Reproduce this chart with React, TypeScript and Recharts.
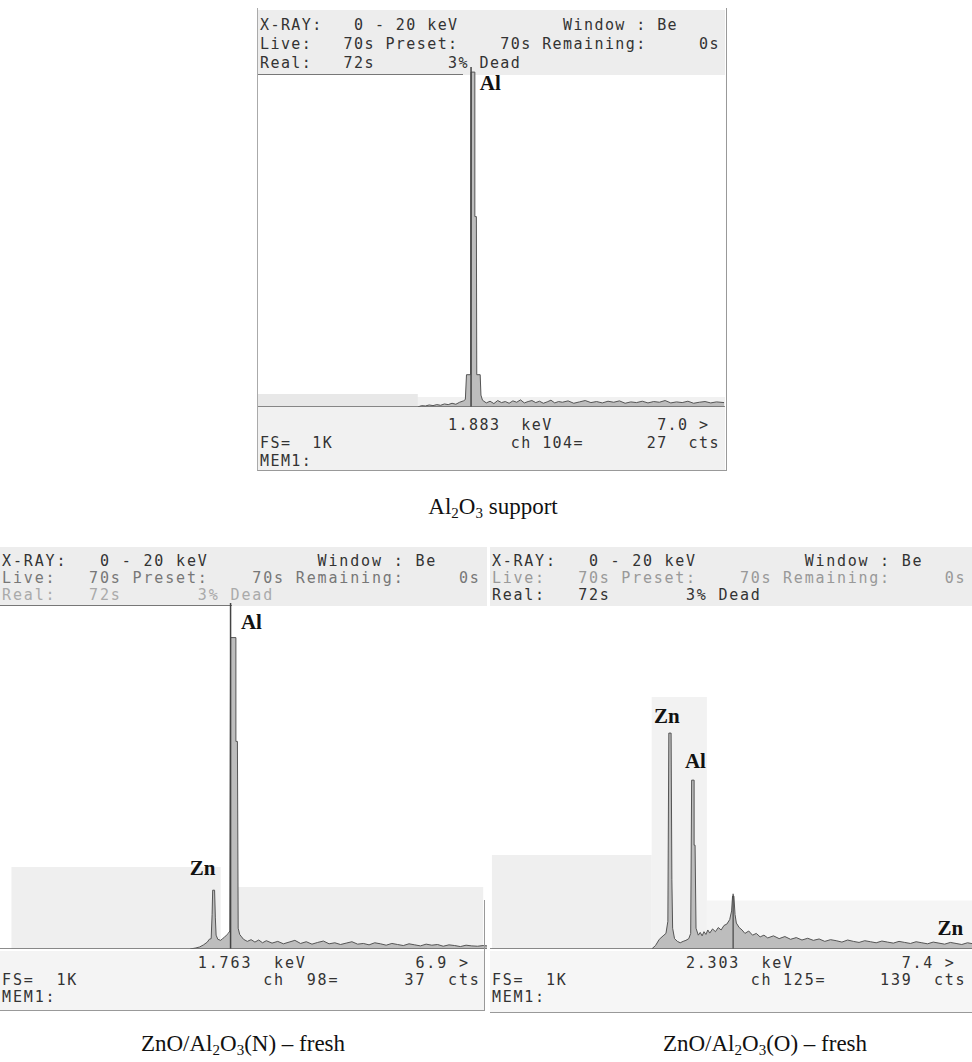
import React from "react";
import { AreaChart, Area, XAxis, YAxis, ReferenceLine, ReferenceArea, ReferenceDot } from "recharts";

// channel / counts (full scale FS = 1K)
const supportCh = [84, 86, 88, 90, 92, 94, 96, 98, 100, 102, 104, 106, 108, 109, 109.6, 111.8, 112, 114, 114, 114.8, 115, 116.8, 117.2, 118, 120, 122, 124, 126, 128, 130, 132, 134, 136, 138, 140, 142, 144, 146, 148, 150, 152, 154, 156, 158, 160, 163, 166, 169, 172, 175, 178, 181, 184, 187, 190, 193, 196, 199, 202, 205, 208, 211, 214, 217, 220, 223, 226, 229, 232, 235, 238, 241, 245];
const supportCts = [0, 4, 3, 6, 4, 7, 5, 9, 7, 11, 8, 14, 18, 22, 95, 95, 985, 985, 560, 560, 95, 95, 35, 20, 12, 17, 10, 19, 13, 16, 11, 18, 14, 21, 12, 16, 19, 13, 17, 11, 15, 20, 12, 16, 14, 18, 11, 15, 19, 13, 16, 12, 17, 14, 18, 11, 15, 13, 17, 12, 16, 14, 19, 12, 15, 13, 17, 11, 14, 16, 12, 15, 13];

const freshNCh = [100, 103, 105, 107, 109, 110, 111, 111.5, 111.8, 112.8, 113.2, 113.6, 114.5, 116, 117, 118, 119, 120, 120.8, 121.2, 124, 124, 124.8, 125.2, 126, 127, 128, 130, 132, 134, 136, 138, 140, 143, 146, 149, 152, 155, 158, 161, 164, 167, 170, 173, 176, 179, 182, 185, 188, 191, 194, 197, 200, 203, 206, 209, 212, 215, 218, 221, 224, 227, 230, 233, 236, 239, 242, 245, 248, 251, 254, 256];
const freshNCts = [0, 3, 6, 12, 20, 28, 30, 100, 170, 170, 90, 40, 28, 25, 30, 34, 40, 45, 52, 900, 900, 600, 600, 60, 42, 35, 28, 22, 27, 20, 26, 18, 24, 17, 22, 15, 20, 25, 16, 21, 14, 19, 23, 15, 18, 13, 17, 21, 14, 16, 12, 18, 15, 11, 16, 13, 10, 15, 12, 9, 14, 11, 13, 8, 12, 10, 7, 11, 9, 8, 10, 9];

const freshOCh = [85, 87, 89, 91, 92.5, 93.5, 94, 95.2, 95.6, 96, 97, 98.5, 100, 101.5, 103, 104.5, 105.5, 106, 107.3, 107.3, 107.8, 108.3, 109.5, 110.5, 111.5, 112.5, 113.5, 114.5, 115.5, 117, 118.5, 120, 121.5, 123, 124.5, 126, 127, 127.5, 128.2, 128.8, 129.5, 131, 132.5, 134, 136, 138, 140, 142, 144, 146, 149, 152, 155, 158, 161, 164, 167, 170, 173, 176, 179, 182, 185, 188, 191, 194, 197, 200, 203, 206, 209, 212, 215, 218, 221, 224, 227, 230, 233, 236, 239, 242, 245, 248, 251, 254, 256];
const freshOCts = [0, 10, 28, 38, 45, 80, 624, 624, 200, 60, 30, 22, 18, 22, 25, 30, 45, 488, 488, 300, 300, 60, 40, 48, 38, 50, 42, 55, 46, 58, 50, 62, 55, 68, 72, 85, 110, 153, 153, 100, 75, 62, 55, 45, 52, 40, 45, 35, 40, 32, 38, 30, 36, 28, 33, 26, 31, 25, 29, 22, 27, 24, 20, 26, 22, 19, 24, 21, 18, 23, 20, 17, 22, 19, 16, 21, 18, 15, 20, 17, 14, 19, 16, 13, 18, 15, 14];

const headerLines = ["X-RAY:   0 - 20 keV          Window : Be", "Live:   70s Preset:    70s Remaining:     0s", "Real:   72s       3% Dead"];
const topReadout = ["                  1.883  keV          7.0 >", "FS=  1K                 ch 104=      27  cts", "MEM1:"];
const leftReadout = ["                  1.763  keV          6.9 >", "FS=  1K                 ch  98=      37  cts", "MEM1:"];
const rightReadout = ["                  2.303  keV          7.4 >", "FS=  1K                 ch 125=     139  cts", "MEM1:"];

const build = (ch: number[], cts: number[]) => ch.map((c, i) => ({ ch: c, cts: cts[i] }));

const mono: React.CSSProperties = {
  position: "absolute",
  fontFamily: "'DejaVu Sans Mono', monospace",
  fontSize: 15,
  whiteSpace: "pre",
  color: "#333",
};

const labelStyle = { fontFamily: "'Liberation Serif', serif", fontWeight: 700, fontSize: 21, fill: "#111" };

type SpecProps = {
  left: number;
  top: number;
  width: number;
  height: number;
  xMax: number;
  data: { ch: number; cts: number }[];
  children?: React.ReactNode;
};

const Spectrum = ({ left, top, width, height, xMax, data, children }: SpecProps) => (
  <div style={{ position: "absolute", left, top }}>
    <AreaChart width={width} height={height} data={data} margin={{ top: 0, right: 0, bottom: 0, left: 0 }}>
      <XAxis dataKey="ch" type="number" domain={[0, xMax]} hide allowDataOverflow />
      <YAxis type="number" domain={[0, 1000]} hide allowDataOverflow />
      {children}
      <ReferenceLine y={0} stroke="#666" strokeWidth={1.5} />
      <Area
        type="linear"
        dataKey="cts"
        stroke="#555"
        strokeWidth={1}
        fill="#bdbdbd"
        fillOpacity={1}
        dot={false}
        activeDot={false}
        isAnimationActive={false}
      />
    </AreaChart>
  </div>
);

type HeaderProps = { left: number; top: number; width: number; lh: number; ls: number; colors: string[]; underline: number };

const Header = ({ left, top, width, lh, ls, colors, underline }: HeaderProps) => (
  <>
    <div style={{ position: "absolute", left, top: top - 6, width, height: lh * 3 + 8, background: "#ededed" }} />
    <div style={{ position: "absolute", left, top: top + lh * 3 + 1, width: underline, height: 1, background: "#777" }} />
    {headerLines.map((t, i) => (
      <div key={i} style={{ ...mono, left: left + 2, top: top + i * lh, lineHeight: `${lh}px`, letterSpacing: ls, color: colors[i] }}>
        {t}
      </div>
    ))}
  </>
);

const Readout = ({ left, top, lh, ls, lines }: { left: number; top: number; lh: number; ls: number; lines: string[] }) => (
  <>
    {lines.map((t, i) => (
      <div key={i} style={{ ...mono, left: left + 2, top: top + i * lh, lineHeight: `${lh}px`, letterSpacing: ls }}>
        {t}
      </div>
    ))}
  </>
);

const caption: React.CSSProperties = {
  position: "absolute",
  width: 400,
  textAlign: "center",
  fontFamily: "'Liberation Serif', serif",
  fontSize: 23,
  color: "#111",
};
const sub: React.CSSProperties = { fontSize: 15, verticalAlign: "-4px" };

export default function App() {
  return (
    <div style={{ position: "absolute", left: 0, top: 0, width: 972, height: 1062, background: "#fff", overflow: "hidden" }}>
      {/* Al2O3 support */}
      <div style={{ position: "absolute", left: 258, top: 397, width: 467, height: 73, background: "#f1f1f1" }} />
      <div style={{ position: "absolute", left: 257, top: 8, width: 468, height: 462, borderLeft: "1px solid #aaa", borderRight: "1px solid #999", borderBottom: "1px solid #999" }} />
      <Header left={258} top={16} width={467} lh={19} ls={1.42} colors={["#333", "#333", "#333"]} underline={205} />
      <Spectrum left={258} top={67} width={467} height={340} xMax={245.5} data={build(supportCh, supportCts)}>
        <ReferenceArea x1={0} x2={84} y1={0} y2={38} fill="#e8e8e8" fillOpacity={1} stroke="none" />
        <ReferenceLine x={112} stroke="#444" strokeWidth={1.5} />
        <ReferenceDot x={114.5} y={955} r={0} label={{ value: "Al", position: "right", offset: 4, style: labelStyle }} />
      </Spectrum>
      <Readout left={258} top={416} lh={18} ls={1.42} lines={topReadout} />
      <div style={{ ...caption, left: 293, top: 494 }}>
        Al<span style={sub}>2</span>O<span style={sub}>3</span> support
      </div>

      {/* ZnO/Al2O3(N) fresh */}
      <div style={{ position: "absolute", left: 0, top: 951, width: 484, height: 59, background: "#f4f4f4" }} />
      <Header left={0} top={553} width={487} lh={17} ls={1.85} colors={["#333", "#777", "#aaa"]} underline={232} />
      <Spectrum left={0} top={603} width={487} height={346} xMax={256} data={build(freshNCh, freshNCts)}>
        <ReferenceArea x1={6} x2={116} y1={0} y2={237} fill="#efefef" fillOpacity={1} stroke="none" />
        <ReferenceArea x1={124} x2={254} y1={0} y2={179} fill="#efefef" fillOpacity={1} stroke="none" />
        <ReferenceLine x={121.2} stroke="#444" strokeWidth={1.5} />
        <ReferenceDot x={124} y={945} r={0} label={{ value: "Al", position: "right", offset: 5, style: labelStyle }} />
        <ReferenceDot x={106.5} y={234} r={0} label={{ value: "Zn", position: "center", style: labelStyle }} />
      </Spectrum>
      <Readout left={0} top={955} lh={17} ls={1.85} lines={leftReadout} />
      <div style={{ position: "absolute", left: 484, top: 900, width: 1, height: 110, background: "#999" }} />
      <div style={{ position: "absolute", left: 0, top: 1010, width: 485, height: 1, background: "#999" }} />
      <div style={{ ...caption, left: 43, top: 1031 }}>
        ZnO/Al<span style={sub}>2</span>O<span style={sub}>3</span>(N) – fresh
      </div>

      {/* ZnO/Al2O3(O) fresh */}
      <div style={{ position: "absolute", left: 490, top: 951, width: 482, height: 61, background: "#f6f6f6" }} />
      <Header left={490} top={553} width={482} lh={17} ls={1.75} colors={["#333", "#999", "#333"]} underline={0} />
      <Spectrum left={490} top={603} width={487} height={346} xMax={256} data={build(freshOCh, freshOCts)}>
        <ReferenceArea x1={1} x2={85} y1={0} y2={272} fill="#efefef" fillOpacity={1} stroke="none" />
        <ReferenceArea x1={85} x2={114} y1={0} y2={728} fill="#f2f2f2" fillOpacity={1} stroke="none" />
        <ReferenceArea x1={114} x2={256} y1={0} y2={140} fill="#f5f5f5" fillOpacity={1} stroke="none" />
        <ReferenceLine segment={[{ x: 127.8, y: 0 }, { x: 127.8, y: 160 }]} stroke="#444" strokeWidth={1.2} />
        <ReferenceDot x={93} y={676} r={0} label={{ value: "Zn", position: "center", style: labelStyle }} />
        <ReferenceDot x={108} y={546} r={0} label={{ value: "Al", position: "center", style: labelStyle }} />
        <ReferenceDot x={242} y={62} r={0} label={{ value: "Zn", position: "center", style: labelStyle }} />
      </Spectrum>
      <Readout left={490} top={955} lh={17} ls={1.75} lines={rightReadout} />
      <div style={{ position: "absolute", left: 490, top: 1012, width: 482, height: 1, background: "#999" }} />
      <div style={{ ...caption, left: 565, top: 1031 }}>
        ZnO/Al<span style={sub}>2</span>O<span style={sub}>3</span>(O) – fresh
      </div>
    </div>
  );
}
